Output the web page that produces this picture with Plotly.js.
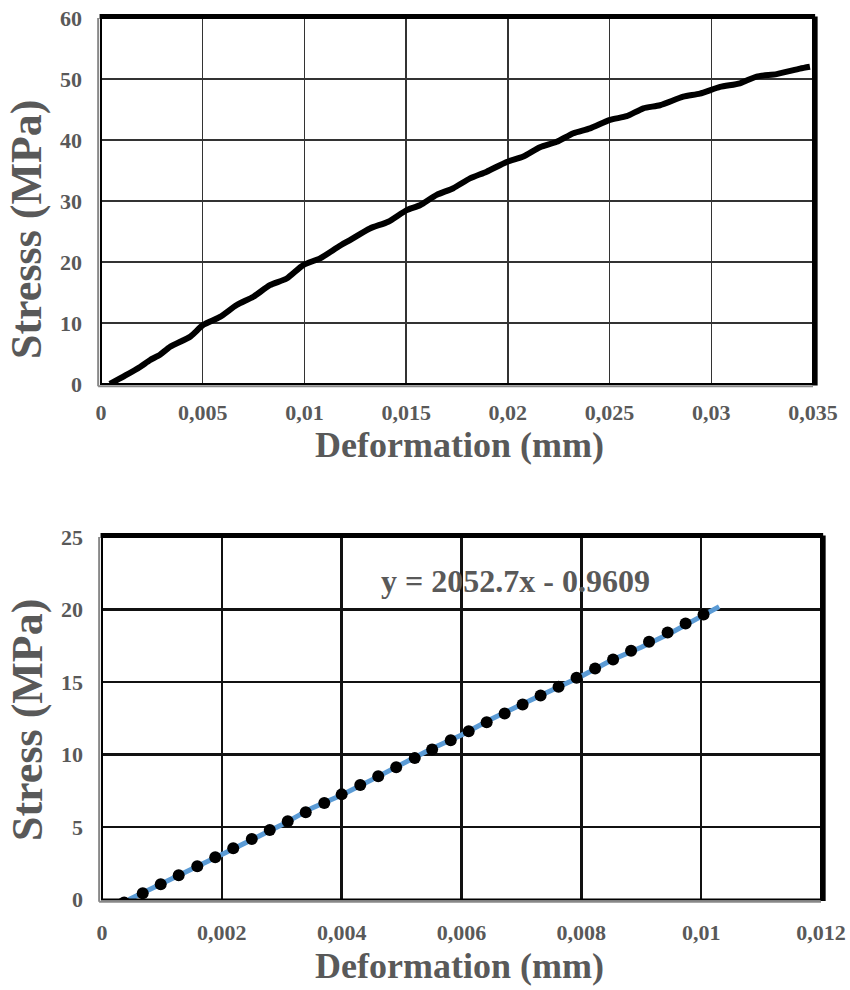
<!DOCTYPE html>
<html>
<head>
<meta charset="utf-8">
<script src="https://cdn.plot.ly/plotly-3.0.1.min.js"></script>
<style>html,body{margin:0;padding:0;background:#fff}#chart{width:850px;height:990px}</style>
</head>
<body>
<div id="chart"></div>
<script>
// Top chart: stress vs deformation
const topX = [0.00044,0.0012,0.00192,0.0024,0.0029,0.0034,0.0044,0.00503,0.00585,0.00667,0.00749,0.0083,0.00913,0.00994,0.01077,0.01167,0.01224,0.01322,0.01412,0.01503,0.01568,0.0165,0.01732,0.01814,0.01896,0.01994,0.02076,0.02158,0.0224,0.02322,0.02404,0.02502,0.02584,0.02666,0.02748,0.02862,0.02944,0.03043,0.03141,0.03223,0.03321,0.03436,0.03485];
const topY = [0,1.4,2.8,3.9,4.8,6.1,7.8,9.7,11.0,12.95,14.3,16.2,17.3,19.5,20.6,22.5,23.6,25.5,26.6,28.5,29.3,31.0,32.1,33.7,34.8,36.4,37.3,38.8,39.7,41.1,41.9,43.3,43.9,45.2,45.7,47.1,47.6,48.7,49.3,50.4,50.8,51.7,52.0];

// Bottom chart: linear zone data
const botX = [0.00045,0.001,0.0015,0.002,0.0025,0.003,0.0035,0.004,0.0045,0.005,0.0055,0.006,0.0065,0.007,0.0075,0.008,0.0085,0.009,0.0095,0.01,0.0103];
const botY = [0,1.05,2.1,3.1,4.15,5.15,6.3,7.2,8.25,9.3,10.4,11.35,12.45,13.45,14.4,15.4,16.5,17.4,18.4,19.55,20.2];

// Trendline dots (as drawn)
const trendX = [0.00037,0.00068,0.00098,0.00128,0.00159,0.00189,0.00219,0.0025,0.0028,0.0031,0.0034,0.00371,0.004,0.00431,0.00461,0.00491,0.00522,0.00551,0.00582,0.00612,0.00642,0.00672,0.00702,0.00732,0.00762,0.00792,0.00823,0.00853,0.00883,0.00913,0.00944,0.00974,0.01004];
const trendY = [-0.2,0.43,1.05,1.67,2.30,2.92,3.54,4.17,4.79,5.40,6.02,6.66,7.25,7.89,8.50,9.12,9.75,10.35,10.99,11.60,12.22,12.83,13.45,14.07,14.68,15.30,15.93,16.55,17.16,17.78,18.42,19.03,19.65];

const topXTicks = [0,0.005,0.01,0.015,0.02,0.025,0.03,0.035];
const topXText = ["0","0,005","0,01","0,015","0,02","0,025","0,03","0,035"];
const topYTicks = [0,10,20,30,40,50,60];
const topYText = ["0","10","20","30","40","50","60"];
const botXTicks = [0,0.002,0.004,0.006,0.008,0.01,0.012];
const botXText = ["0","0,002","0,004","0,006","0,008","0,01","0,012"];
const botYTicks = [0,5,10,15,20,25];
const botYText = ["0","5","10","15","20","25"];

const equation = "y = 2052.7x - 0.9609";
const titleX = "Deformation (mm)";
const titleYTop = "Stresss (MPa)";
const titleYBot = "Stress (MPa)";

const FONT = "Liberation Serif, Times New Roman, serif";
const GREY = "#595959";
const tickFont = {family: FONT, size: 22, color: GREY, weight: "bold"};

const traces = [
  {x: topX, y: topY, xaxis: "x", yaxis: "y", mode: "lines", type: "scatter",
   line: {color: "#000", width: 6, shape: "spline", smoothing: 0.6}, hoverinfo: "none"},
  {x: botX, y: botY, xaxis: "x2", yaxis: "y2", mode: "lines", type: "scatter",
   line: {color: "#5B9BD5", width: 5}, hoverinfo: "none"},
  {x: trendX, y: trendY, xaxis: "x2", yaxis: "y2", mode: "markers", type: "scatter",
   marker: {color: "#000", size: 12}, hoverinfo: "none"}
];

function axisBase(extra) {
  return Object.assign({
    showline: false, zeroline: false, showgrid: true,
    ticks: "", tickmode: "array", tickfont: tickFont, fixedrange: true
  }, extra);
}

const W = 850, H = 990;
const boxTop = {l: 101, r: 813, t: 18, b: 384};
const boxBot = {l: 102, r: 821, t: 537, b: 899.5};

const xTitleFont = {family: FONT, size: 36, color: GREY, weight: "bold"};
const yTitleFont = {family: FONT, size: 44, color: GREY, weight: "bold"};

const layout = {
  width: W, height: H,
  margin: {l: 0, r: 0, t: 0, b: 0},
  paper_bgcolor: "#fff", plot_bgcolor: "#fff",
  showlegend: false,
  xaxis: axisBase({domain: [boxTop.l / W, boxTop.r / W], range: [0, 0.035], anchor: "y",
    tickvals: topXTicks, ticktext: topXText, gridcolor: "#333", gridwidth: 1.5, ticklabelstandoff: 13}),
  yaxis: axisBase({domain: [1 - boxTop.b / H, 1 - boxTop.t / H], range: [0, 60], anchor: "x",
    tickvals: topYTicks, ticktext: topYText, gridcolor: "#333", gridwidth: 1.5, ticklabelstandoff: 18}),
  xaxis2: axisBase({domain: [boxBot.l / W, boxBot.r / W], range: [0, 0.012], anchor: "y2",
    tickvals: botXTicks, ticktext: botXText, gridcolor: "#111", gridwidth: 2.5, ticklabelstandoff: 17}),
  yaxis2: axisBase({domain: [1 - boxBot.b / H, 1 - boxBot.t / H], range: [0, 25], anchor: "x2",
    tickvals: botYTicks, ticktext: botYText, gridcolor: "#111", gridwidth: 2.5, ticklabelstandoff: 18}),
  annotations: [
    {text: titleX, xref: "paper", yref: "paper", x: 459 / W, y: 1 - 445 / H, xanchor: "center", yanchor: "middle",
     showarrow: false, font: xTitleFont},
    {text: titleX, xref: "paper", yref: "paper", x: 459 / W, y: 1 - 966 / H, xanchor: "center", yanchor: "middle",
     showarrow: false, font: xTitleFont},
    {text: titleYTop, xref: "paper", yref: "paper", x: 27 / W, y: 1 - 230 / H, xanchor: "center", yanchor: "middle",
     textangle: -90, showarrow: false, font: yTitleFont},
    {text: titleYBot, xref: "paper", yref: "paper", x: 27 / W, y: 1 - 720 / H, xanchor: "center", yanchor: "middle",
     textangle: -90, showarrow: false, font: yTitleFont},
    {text: equation, xref: "x2", yref: "y2", x: 0.0069, y: 22.0, xanchor: "center", yanchor: "middle",
     showarrow: false, font: {family: FONT, size: 32, color: GREY, weight: "bold"}}
  ],
  shapes: [
    {type: "rect", xref: "x domain", yref: "y domain", x0: 0, x1: 1, y0: 0, y1: 1, line: {color: "#000", width: 2}},
    {type: "line", xref: "x domain", yref: "y domain", x0: -0.004, x1: -0.004, y0: -0.006, y1: 1, line: {color: "#888", width: 2}},
    {type: "line", xref: "x domain", yref: "y domain", x0: -0.004, x1: 1, y0: -0.006, y1: -0.006, line: {color: "#888", width: 2}},
    {type: "line", xref: "x domain", yref: "y domain", x0: -0.002, x1: 1.003, y0: 1.004, y1: 1.004, line: {color: "#000", width: 5}},
    {type: "line", xref: "x domain", yref: "y domain", x0: 1.003, x1: 1.003, y0: -0.004, y1: 1.004, line: {color: "#000", width: 5}},
    {type: "rect", xref: "x2 domain", yref: "y2 domain", x0: 0, x1: 1, y0: 0, y1: 1, line: {color: "#000", width: 2}},
    {type: "line", xref: "x2 domain", yref: "y2 domain", x0: -0.004, x1: -0.004, y0: -0.006, y1: 1, line: {color: "#888", width: 2}},
    {type: "line", xref: "x2 domain", yref: "y2 domain", x0: -0.004, x1: 1, y0: -0.006, y1: -0.006, line: {color: "#888", width: 2}},
    {type: "line", xref: "x2 domain", yref: "y2 domain", x0: -0.002, x1: 1.003, y0: 1.004, y1: 1.004, line: {color: "#000", width: 5}},
    {type: "line", xref: "x2 domain", yref: "y2 domain", x0: 1.003, x1: 1.003, y0: -0.004, y1: 1.004, line: {color: "#000", width: 5}}
  ]
};

Plotly.newPlot("chart", traces, layout, {displayModeBar: false, staticPlot: true});
</script>
</body>
</html>
